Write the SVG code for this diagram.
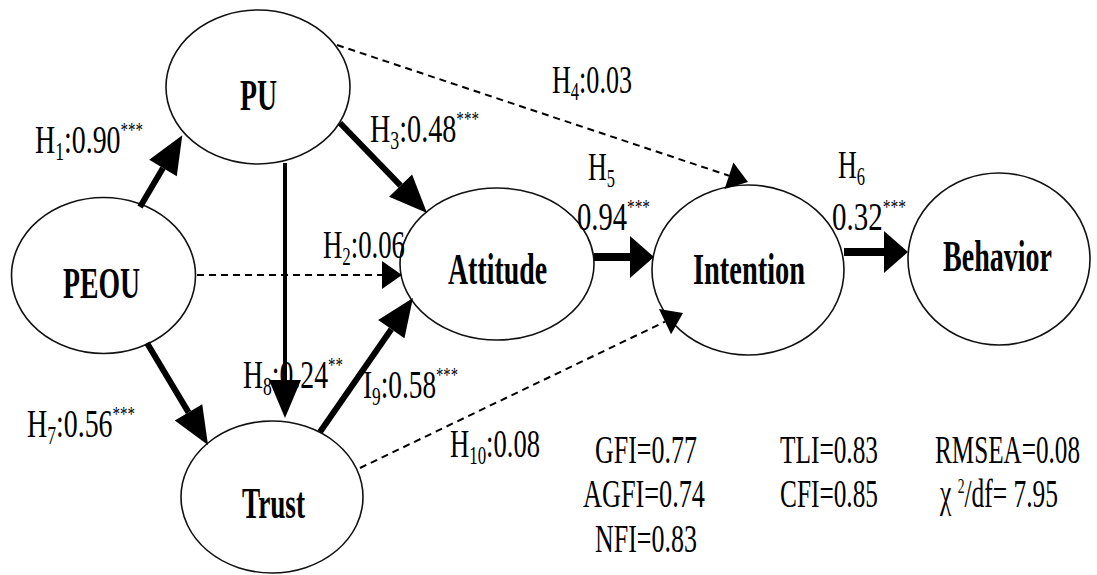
<svg xmlns="http://www.w3.org/2000/svg" width="1097" height="575" viewBox="0 0 1097 575">
<style>
.node ellipse{fill:#fff;stroke:#111;stroke-width:1.6}
.nt{font-family:"Liberation Serif","Times New Roman",serif;font-weight:bold;font-size:45px;fill:#000}
.lb{font-family:"Liberation Serif","Times New Roman",serif;font-size:41px;fill:#000}
.sub{font-size:26px}
.sup{font-size:22px}
.solid{stroke:#000;fill:none}
.dash{stroke:#000;fill:none;stroke-width:2;stroke-dasharray:7 5}
</style>
<defs>
<marker id="hd" markerUnits="userSpaceOnUse" markerWidth="38" markerHeight="32" refX="0" refY="16" orient="auto" overflow="visible"><path d="M0,0 L38,16 L0,32 Z" fill="#000"/></marker>
<marker id="hw" markerUnits="userSpaceOnUse" markerWidth="24" markerHeight="42" refX="0" refY="21" orient="auto" overflow="visible"><path d="M0,0 L24,21 L0,42 Z" fill="#000"/></marker>
<marker id="hs" markerUnits="userSpaceOnUse" markerWidth="20" markerHeight="28" refX="0" refY="14" orient="auto" overflow="visible"><path d="M0,0 L20,14 L0,28 Z" fill="#000"/></marker>
</defs>
<rect width="1097" height="575" fill="#fff"/>
<g id="node-pu" class="node"><ellipse cx="258" cy="87" rx="92" ry="77"/><text class="nt" x="240" y="110" textLength="37" lengthAdjust="spacingAndGlyphs">PU</text></g>
<g id="node-peou" class="node"><ellipse cx="103.5" cy="275.5" rx="92" ry="78"/><text class="nt" x="63" y="298" textLength="77" lengthAdjust="spacingAndGlyphs">PEOU</text></g>
<g id="node-attitude" class="node"><ellipse cx="497" cy="264" rx="97" ry="76"/><text class="nt" x="448" y="284" textLength="99" lengthAdjust="spacingAndGlyphs">Attitude</text></g>
<g id="node-intention" class="node"><ellipse cx="748" cy="270" rx="96" ry="85"/><text class="nt" x="693" y="284" textLength="112" lengthAdjust="spacingAndGlyphs">Intention</text></g>
<g id="node-behavior" class="node"><ellipse cx="999" cy="259" rx="91" ry="86"/><text class="nt" x="943" y="271" textLength="109" lengthAdjust="spacingAndGlyphs">Behavior</text></g>
<g id="node-trust" class="node"><ellipse cx="272" cy="497" rx="91" ry="76"/><text class="nt" x="242" y="518" textLength="63" lengthAdjust="spacingAndGlyphs">Trust</text></g>
<g id="labels">
<text class="lb" x="35" y="153" textLength="108" lengthAdjust="spacingAndGlyphs">H<tspan class="sub" dy="7">1</tspan><tspan dy="-7">:0.90</tspan><tspan class="sup" dy="-16">***</tspan></text>
<text class="lb" x="370" y="142" textLength="109" lengthAdjust="spacingAndGlyphs">H<tspan class="sub" dy="7">3</tspan><tspan dy="-7">:0.48</tspan><tspan class="sup" dy="-16">***</tspan></text>
<text class="lb" x="323" y="258" textLength="82" lengthAdjust="spacingAndGlyphs">H<tspan class="sub" dy="7">2</tspan><tspan dy="-7">:0.06</tspan></text>
<text class="lb" x="552" y="93" textLength="80" lengthAdjust="spacingAndGlyphs">H<tspan class="sub" dy="7">4</tspan><tspan dy="-7">:0.03</tspan></text>
<text class="lb" x="588" y="180" textLength="27" lengthAdjust="spacingAndGlyphs">H<tspan class="sub" dy="7">5</tspan></text>
<text class="lb" x="577" y="230" textLength="73" lengthAdjust="spacingAndGlyphs">0.94<tspan class="sup" dy="-16">***</tspan></text>
<text class="lb" x="838" y="178" textLength="27" lengthAdjust="spacingAndGlyphs">H<tspan class="sub" dy="7">6</tspan></text>
<text class="lb" x="832" y="230" textLength="74" lengthAdjust="spacingAndGlyphs">0.32<tspan class="sup" dy="-16">***</tspan></text>
<text class="lb" x="243" y="388" textLength="100" lengthAdjust="spacingAndGlyphs">H<tspan class="sub" dy="7">8</tspan><tspan dy="-7">:0.24</tspan><tspan class="sup" dy="-16">**</tspan></text>
<text class="lb" x="363" y="398" textLength="95" lengthAdjust="spacingAndGlyphs">I<tspan class="sub" dy="7">9</tspan><tspan dy="-7">:0.58</tspan><tspan class="sup" dy="-16">***</tspan></text>
<text class="lb" x="27" y="437" textLength="108" lengthAdjust="spacingAndGlyphs">H<tspan class="sub" dy="7">7</tspan><tspan dy="-7">:0.56</tspan><tspan class="sup" dy="-16">***</tspan></text>
<text class="lb" x="450" y="457" textLength="90" lengthAdjust="spacingAndGlyphs">H<tspan class="sub" dy="7">10</tspan><tspan dy="-7">:0.08</tspan></text>
</g>
<g id="fit-indices">
<text class="lb" x="595" y="463" textLength="102" lengthAdjust="spacingAndGlyphs">GFI=0.77</text>
<text class="lb" x="583" y="507" textLength="122" lengthAdjust="spacingAndGlyphs">AGFI=0.74</text>
<text class="lb" x="595" y="552" textLength="102" lengthAdjust="spacingAndGlyphs">NFI=0.83</text>
<text class="lb" x="780" y="463" textLength="98" lengthAdjust="spacingAndGlyphs">TLI=0.83</text>
<text class="lb" x="780" y="507" textLength="98" lengthAdjust="spacingAndGlyphs">CFI=0.85</text>
<text class="lb" x="935" y="463" textLength="145" lengthAdjust="spacingAndGlyphs">RMSEA=0.08</text>
<text class="lb" x="940" y="507" textLength="118" lengthAdjust="spacingAndGlyphs">χ <tspan class="sup" dy="-14">2</tspan><tspan dy="14">/df= 7.95</tspan></text>
</g>
<g id="connectors">
<line class="solid" x1="140" y1="207" x2="163" y2="168" stroke-width="6" marker-end="url(#hd)"/>
<line class="solid" x1="340" y1="123" x2="400.6" y2="185.7" stroke-width="6" marker-end="url(#hd)"/>
<line class="solid" x1="285" y1="163" x2="285" y2="380" stroke-width="4" marker-end="url(#hd)"/>
<line class="solid" x1="147" y1="343" x2="188.5" y2="412.4" stroke-width="6" marker-end="url(#hd)"/>
<line class="solid" x1="320" y1="432" x2="391.3" y2="329.2" stroke-width="6" marker-end="url(#hd)"/>
<line class="solid" x1="594" y1="257" x2="630" y2="257" stroke-width="8" marker-end="url(#hw)"/>
<line class="solid" x1="844" y1="252" x2="884" y2="252" stroke-width="8" marker-end="url(#hw)"/>
<line class="dash" x1="197" y1="275" x2="382" y2="275" marker-end="url(#hs)"/>
<line class="dash" x1="337" y1="45" x2="729" y2="175.7" marker-end="url(#hs)"/>
<line class="dash" x1="360" y1="468" x2="665" y2="321.7" marker-end="url(#hs)"/>
</g>
</svg>
